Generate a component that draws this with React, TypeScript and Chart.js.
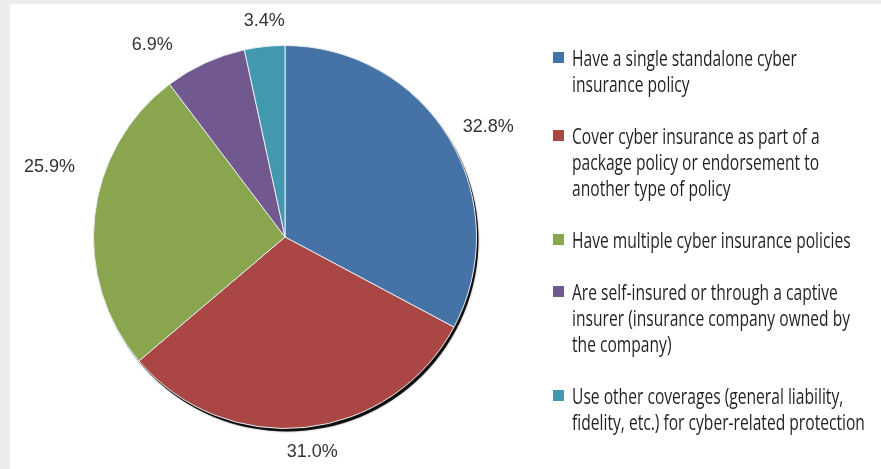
import React, { useEffect, useRef } from "react";
import { Chart, registerables } from "chart.js";

Chart.register(...registerables);

const categories: string[][] = [
  ["Have a single standalone cyber", "insurance policy"],
  ["Cover cyber insurance as part of a", "package policy or endorsement to", "another type of policy"],
  ["Have multiple cyber insurance policies"],
  ["Are self-insured or through a captive", "insurer (insurance company owned by", "the company)"],
  ["Use other coverages (general liability,", "fidelity, etc.) for cyber-related protection"],
];
const values: number[] = [32.8, 31.0, 25.9, 6.9, 3.4];
const valueLabels: string[] = ["32.8%", "31.0%", "25.9%", "6.9%", "3.4%"];
const colors: string[] = ["#4572A7", "#AA4643", "#89A54E", "#71588F", "#4198AF"];
// label placement nudges (style only, mimicking the original's label distribution)
const labelNudges: [number, number][] = [[0, 2], [2, -2], [0, -46], [-36, 7], [4, 1]];

const LEGEND_FONT = '21px "Open Sans"';
const LEGEND_REF_WIDTH = 225; // target width of the first legend line, condensed look

function legendScale(): number {
  try {
    const c = document.createElement("canvas");
    const ctx = c.getContext("2d");
    if (!ctx) return 0.8;
    ctx.font = LEGEND_FONT;
    const w = ctx.measureText(categories[0][0]).width;
    return w > 0 ? LEGEND_REF_WIDTH / w : 0.8;
  } catch (e) {
    return 0.8;
  }
}

const shadowPlugin = {
  id: "pieShadow",
  beforeDatasetsDraw(chart: any) {
    const arc = chart.getDatasetMeta(0).data[0] as any;
    if (!arc) return;
    const ctx = chart.ctx;
    ctx.save();
    ctx.beginPath();
    ctx.arc(arc.x + 2, arc.y + 3, arc.outerRadius, 0, Math.PI * 2);
    ctx.fillStyle = "rgba(0,0,0,0.9)";
    ctx.shadowColor = "rgba(0,0,0,0.5)";
    ctx.shadowBlur = 2;
    ctx.fill();
    ctx.restore();
  },
};

const labelPlugin = {
  id: "pieLabels",
  afterDatasetsDraw(chart: any) {
    const meta = chart.getDatasetMeta(0);
    const ctx = chart.ctx;
    ctx.save();
    ctx.font = '18px "Liberation Sans", Arial, sans-serif';
    ctx.fillStyle = "#333333";
    ctx.textAlign = "center";
    ctx.textBaseline = "middle";
    meta.data.forEach((el: any, i: number) => {
      const mid = (el.startAngle + el.endAngle) / 2;
      const dx = Math.cos(mid);
      const dy = Math.sin(mid);
      const r = el.outerRadius + 20;
      const text = valueLabels[i];
      const w = ctx.measureText(text).width;
      const px = el.x + dx * r + dx * (w / 2);
      const py = el.y + dy * r + dy * 7;
      const n = labelNudges[i] || [0, 0];
      ctx.fillText(text, px + n[0], py + n[1]);
    });
    ctx.restore();
  },
};

export default function App() {
  const canvasRef = useRef<HTMLCanvasElement | null>(null);
  const scale = legendScale();

  useEffect(() => {
    document.body.style.margin = "0";
    const canvas = canvasRef.current;
    if (!canvas) return;
    const chart = new Chart(canvas, {
      type: "pie",
      data: {
        labels: categories,
        datasets: [
          {
            data: values,
            backgroundColor: colors,
            borderColor: "#e8eef2",
            borderWidth: 1,
          },
        ],
      },
      options: {
        animation: false,
        responsive: false,
        maintainAspectRatio: false,
        layout: { padding: { top: 45, bottom: 40, left: 93, right: 93 } },
        plugins: {
          legend: { display: false },
          tooltip: { enabled: false },
        },
      },
      plugins: [shadowPlugin, labelPlugin],
    });
    return () => chart.destroy();
  }, []);

  return (
    <div
      style={{
        position: "relative",
        width: 881,
        height: 469,
        background: "#ececec",
        overflow: "hidden",
      }}
    >
      <div
        style={{
          position: "absolute",
          left: 10,
          top: 4,
          right: 0,
          bottom: 0,
          background: "#ffffff",
        }}
      />
      <canvas
        ref={canvasRef}
        width={570}
        height={469}
        style={{ position: "absolute", left: 0, top: 0, width: 570, height: 469 }}
      />
      <div
        style={{
          position: "absolute",
          left: 553,
          top: 45,
          font: LEGEND_FONT,
          lineHeight: "26px",
          color: "#231f20",
        }}
      >
        {categories.map((lines, i) => (
          <div key={i} style={{ position: "relative", marginBottom: 26, whiteSpace: "nowrap" }}>
            <div
              style={{
                position: "absolute",
                left: 0,
                top: 7,
                width: 11,
                height: 11,
                background: colors[i],
              }}
            />
            <div
              style={{
                marginLeft: 19,
                transform: `scaleX(${scale})`,
                transformOrigin: "0 0",
              }}
            >
              {lines.map((l, j) => (
                <div key={j}>{l}</div>
              ))}
            </div>
          </div>
        ))}
      </div>
    </div>
  );
}
